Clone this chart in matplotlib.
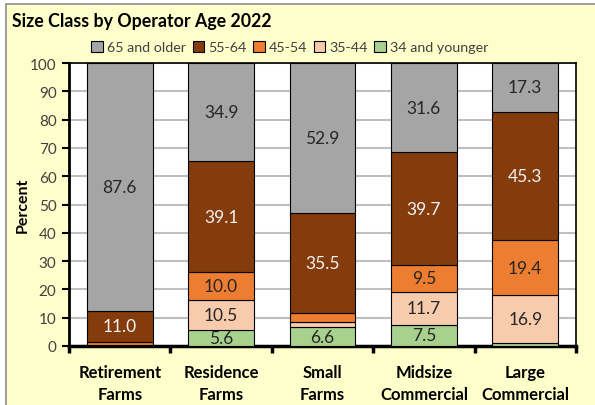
import numpy as np
import matplotlib.pyplot as plt
from matplotlib.patches import Rectangle

plt.rcParams['font.family'] = ['Lato', 'DejaVu Sans']

# 数据
categories = ['Retirement\nFarms', 'Residence\nFarms', 'Small\nFarms', 'Midsize\nCommercial', 'Large\nCommercial']
age_groups = ['65 and older', '55-64', '45-54', '35-44', '34 and younger']
young = [0.1, 5.6, 6.6, 7.5, 1.1]        # 34 and younger
age35_44 = [0.3, 10.5, 2.0, 11.7, 16.9]
age45_54 = [1.0, 10.0, 3.0, 9.5, 19.4]
age55_64 = [11.0, 39.1, 35.5, 39.7, 45.3]
age65 = [87.6, 34.9, 52.9, 31.6, 17.3]

colors = {'34 and younger': '#A9D18E', '35-44': '#F8CBAD', '45-54': '#ED7D31',
          '55-64': '#843C0C', '65 and older': '#A5A5A5'}
label_colors = {'34 and younger': '#262626', '35-44': '#262626', '45-54': '#262626',
                '55-64': '#F2F2F2', '65 and older': '#262626'}

fig = plt.figure(figsize=(5.95, 4.06), dpi=100)
fig.patch.set_facecolor('white')
# 外框背景
bg = Rectangle((6 / 595, -0.1), 1.2, 1.1 - 5 / 406, transform=fig.transFigure,
               facecolor='#FFFFCC', edgecolor='#8C8C8C', linewidth=1.2, zorder=-10)
fig.add_artist(bg)

ax = fig.add_axes([69 / 595, 1 - 347 / 406, (576 - 69) / 595, (347 - 64) / 406])
ax.set_facecolor('white')

x = np.arange(len(categories))
bottom = np.zeros(len(categories))
series = [('34 and younger', young), ('35-44', age35_44), ('45-54', age45_54),
          ('55-64', age55_64), ('65 and older', age65)]
handles = {}
for name, vals in series:
    vals = np.array(vals)
    b = ax.bar(x, vals, 0.65, bottom=bottom, color=colors[name], edgecolor='black',
               linewidth=0.8, label=name, zorder=3)
    handles[name] = b
    for xi, v, bt in zip(x, vals, bottom):
        if v >= 5:
            ax.text(xi, bt + v / 2, f'{v:.1f}', ha='center', va='center', fontsize=12.5,
                    color=label_colors[name], zorder=4)
    bottom += vals

ax.set_xlim(-0.5, 4.5)
ax.set_ylim(0, 100)
ax.set_yticks(np.arange(0, 101, 10))
ax.yaxis.grid(True, color='#BFBFBF', linewidth=1.5, zorder=0)
ax.set_axisbelow(True)
ax.tick_params(axis='y', direction='out', length=5, width=1.5, color='black',
               labelsize=11, labelcolor='#404040', pad=4)
ax.set_ylabel('Percent', fontsize=11.5, fontweight='bold')
ax.yaxis.set_label_coords(-0.078, 0.5)

ax.set_xticks(np.arange(-0.5, 5, 1))
ax.set_xticklabels([])
ax.tick_params(axis='x', direction='out', length=5, width=2.5, color='black')
ax.set_xticks(x, minor=True)
ax.set_xticklabels(categories, minor=True, fontsize=12, fontweight='bold', linespacing=1.45)
ax.tick_params(axis='x', which='minor', length=0, pad=13)

for s in ['top', 'right']:
    ax.spines[s].set_linewidth(1.2)
ax.spines['left'].set_linewidth(2)
ax.spines['bottom'].set_linewidth(2.5)

fig.text(12 / 595, 1 - 22 / 406, 'Size Class by Operator Age 2022', fontsize=12.8,
         fontweight='bold', ha='left', va='center')

fig.legend([handles[n] for n in age_groups], age_groups, loc='center',
           bbox_to_anchor=(290 / 595, 1 - 48 / 406), ncol=5, frameon=False,
           fontsize=10.3, handlelength=0.8, handleheight=0.8, handletextpad=0.3,
           columnspacing=0.45, labelcolor='#404040')

fig.savefig('out.png', dpi=100)
